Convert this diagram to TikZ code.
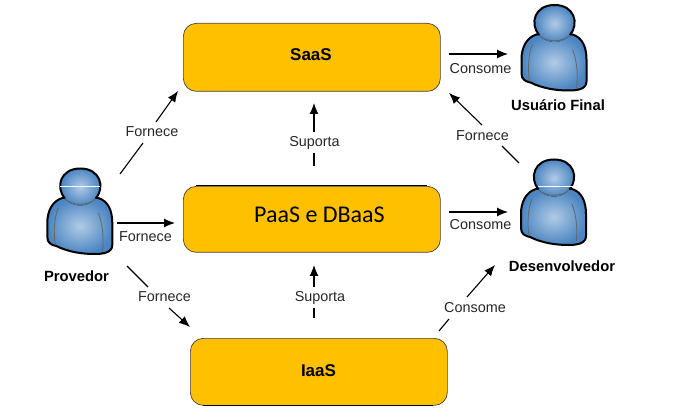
\documentclass[tikz,border=0pt]{standalone}
\usepackage{fontspec}
\setmainfont{Liberation Sans}
\newfontfamily\carl{Carlito}
\usetikzlibrary{arrows.meta}
\definecolor{boxfill}{RGB}{255,192,0}
\definecolor{skinlight}{RGB}{178,203,230}
\definecolor{skindark}{RGB}{76,134,194}
\tikzset{
  layerbox/.style={draw=black!75,line width=0.7pt,fill=boxfill,rounded corners=13pt,minimum width=#1,inner sep=0pt},
  flow/.style={-{Latex[length=11pt,width=9pt]},line width=1.1pt},
  stub/.style={line width=1.1pt},
  tag/.style={inner sep=0pt,text height=10.3pt,text depth=0pt,font=\fontsize{14.4}{16}\selectfont,text=black!85},
  caption/.style={font=\fontsize{14.8}{17}\selectfont\bfseries,inner sep=0pt,text height=10.6pt,text depth=0pt},
  person/.pic={
    % body, measured from the centre of the head
    \draw[line width=2pt,line join=round,inner color=skinlight,outer color=skindark]
      (-18,11) .. controls (-28,14) and (-33,24) .. (-33,36)
      -- (-33,50) .. controls (-33,56) and (-29,58) .. (-24,59)
      .. controls (-12,65) and (2,67) .. (14,67)
      .. controls (22,67) and (32,66) .. (32,58)
      -- (32,36) .. controls (32,24) and (28,14) .. (18,11) -- cycle;
    \draw[black!60,line width=0.8pt] (-22,21) .. controls (-26,30) and (-27,45) .. (-25,58);
    \draw[black!60,line width=0.8pt] (18,26) .. controls (22,36) and (24,50) .. (22,65);
    % head: filled, black rim above the collar, grey below
    \fill[inner color=skinlight,outer color=skindark] (0,0) ellipse (19.5 and 18.5);
    \draw[black!60,line width=0.9pt] (-15,12) .. controls (-8,19) and (8,19) .. (15,12);
    \draw[black,line width=2pt] (-15.5,11.5) .. controls (-25,0) and (-20,-18.5) .. (0,-18.5)
      .. controls (20,-18.5) and (25,0) .. (15.5,11.5);
  }
}
\begin{document}
\begin{tikzpicture}[x=1pt,y=-1pt]
\useasboundingbox (0,0) rectangle (689,417);
% service layers
\node[layerbox=257pt,minimum height=68pt,anchor=north west] (saas) at (183,23) {};
\node[font=\fontsize{17}{19}\selectfont\bfseries] (saaslabel) at (311,55) {SaaS};
\node[layerbox=257pt,minimum height=66pt,anchor=north west] (paas) at (183,186) {};
\node[font=\carl\fontsize{24}{28}\selectfont] (paaslabel) at (319.5,215) {PaaS e DBaaS};
\node[layerbox=257pt,minimum height=67pt,anchor=north west] (iaas) at (190,338) {};
\node[font=\fontsize{17}{19}\selectfont\bfseries] (iaaslabel) at (318.5,371) {IaaS};
\coordinate (u1) at (203,405.5); \coordinate (u2) at (433,405.5);
\coordinate (u3) at (196,186); \coordinate (u4) at (427,186);
\draw[black,line width=1.2pt] (u1) -- (u2);
\draw[black,line width=1pt] (u3) -- (u4);
% people
\pic at (554.5,23.5) {person};
\pic at (554,178) {person};
\pic at (80.3,187) {person};
\coordinate (w1) at (60,186.7); \coordinate (w2) at (100,186.7);
\coordinate (w3) at (538,186.7); \coordinate (w4) at (573,186.7);
\draw[white,line width=0.9pt] (w1) -- (w2);
\draw[white,line width=0.9pt] (w3) -- (w4);
\node[caption] (final) at (558,105) {Usuário Final};
\node[caption] (dev) at (562,266.7) {Desenvolvedor};
\node[caption] (prov) at (76.5,276.5) {Provedor};
% connector end points; those broken by a label have a stub and an arrow part
\coordinate (a1) at (120,174); \coordinate (a2) at (143,143);
\coordinate (a3) at (156,122); \coordinate (a4) at (178,91);
\coordinate (b1) at (117,223); \coordinate (b2) at (175,223);
\coordinate (c1) at (127,266); \coordinate (c2) at (148,287);
\coordinate (c3) at (169,308); \coordinate (c4) at (190,327);
\coordinate (d1) at (314,166); \coordinate (d2) at (314,153);
\coordinate (d3) at (314,132); \coordinate (d4) at (314,103);
\coordinate (e1) at (314,318); \coordinate (e2) at (314,308);
\coordinate (e3) at (314,287); \coordinate (e4) at (314,265);
\coordinate (f1) at (449,54); \coordinate (f2) at (508,54);
\coordinate (g1) at (449,212); \coordinate (g2) at (508,212);
\coordinate (h1) at (519,163); \coordinate (h2) at (502,146);
\coordinate (h3) at (482,125); \coordinate (h4) at (449,93);
\coordinate (i1) at (439,331); \coordinate (i2) at (449,319);
\coordinate (i3) at (467,297); \coordinate (i4) at (495,265);
\draw[stub] (a1) -- (a2); \draw[flow] (a3) -- (a4);
\draw[flow] (b1) -- (b2);
\draw[stub] (c1) -- (c2); \draw[flow] (c3) -- (c4);
\draw[stub] (d1) -- (d2); \draw[flow] (d3) -- (d4);
\draw[stub] (e1) -- (e2); \draw[flow] (e3) -- (e4);
\draw[flow] (f1) -- (f2);
\draw[flow] (g1) -- (g2);
\draw[stub] (h1) -- (h2); \draw[flow] (h3) -- (h4);
\draw[stub] (i1) -- (i2); \draw[flow] (i3) -- (i4);
% connector labels
\node[tag] (la) at (152,131.5) {Fornece};
\node[tag] (lb) at (145.5,236.7) {Fornece};
\node[tag] (lc) at (164.5,296.5) {Fornece};
\node[tag] (ld) at (314.5,141.5) {Suporta};
\node[tag] (le) at (320,296.5) {Suporta};
\node[tag] (lf) at (480.5,68.5) {Consome};
\node[tag] (lg) at (480.5,224.5) {Consome};
\node[tag] (lh) at (482.5,135) {Fornece};
\node[tag] (li) at (475,307) {Consome};
\end{tikzpicture}
\end{document}
